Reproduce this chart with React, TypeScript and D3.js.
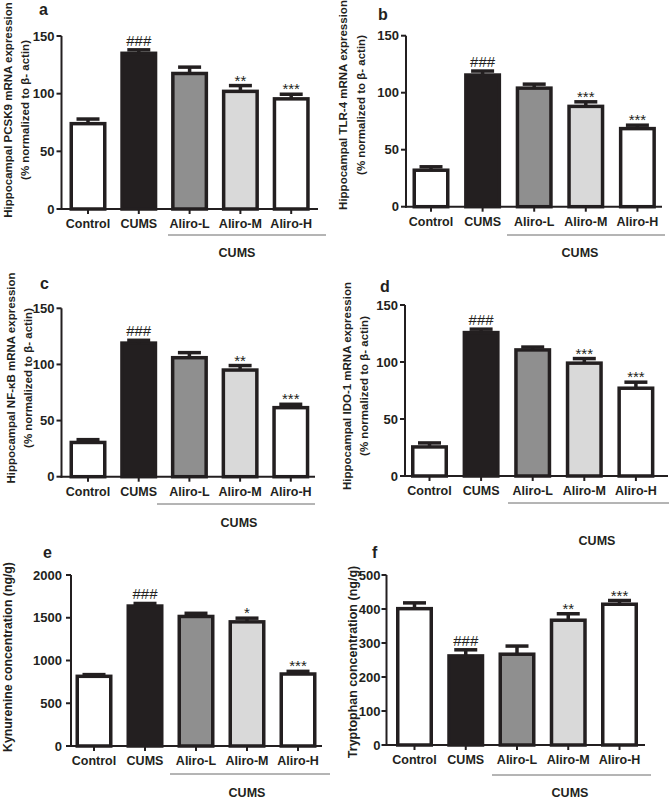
import React from "react";
import * as d3 from "d3";

// ---------- DATA ----------
const categories = ["Control", "CUMS", "Aliro-L", "Aliro-M", "Aliro-H"];
const barFills = ["#ffffff", "#231f20", "#8f8f8f", "#d9d9d9", "#ffffff"];

const pcsk9Means = [74, 135, 117.5, 102, 95.5];
const pcsk9Errors = [4, 3, 5.5, 5, 4];
const pcsk9Marks = ["", "###", "", "**", "***"];

const tlr4Means = [32, 115.5, 104, 88, 68.5];
const tlr4Errors = [3, 3.5, 3.5, 4, 3];
const tlr4Marks = ["", "###", "", "***", "***"];

const nfkbMeans = [30.5, 119, 106, 95, 61.5];
const nfkbErrors = [2.5, 2.5, 4.5, 4, 3];
const nfkbMarks = ["", "###", "", "**", "***"];

const ido1Means = [25.5, 125.8, 110.6, 99, 77];
const ido1Errors = [3.5, 3, 2.5, 4, 5.3];
const ido1Marks = ["", "###", "", "***", "***"];

const kynMeans = [815, 1637, 1515, 1452, 842];
const kynErrors = [20, 30, 37, 43, 31];
const kynMarks = ["", "###", "", "*", "***"];

const trpMeans = [401, 262, 267, 367, 414];
const trpErrors = [17, 18, 24, 19, 11];
const trpMarks = ["", "###", "", "**", "***"];

const mrnaTicks = [0, 50, 100, 150];
const kynTicks = [0, 500, 1000, 1500, 2000];
const trpTicks = [0, 100, 200, 300, 400, 500];

const groupLabel = "CUMS";

// ---------- LAYOUT ----------
const INK = "#231f20";
const FONT = "'Liberation Sans', Arial, Helvetica, sans-serif";

type Layout = {
  letter: string;
  letterX: number;
  letterY: number;
  axisX: number;
  axisEnd: number;
  y0: number;
  yTop: number;
  c0: number;
  step: number;
  labelGap: number;
  titles: { text: string; x: number }[];
  titleY: number;
  titleSize: number;
  groupX1: number;
  groupX2: number;
  groupY: number;
  groupLabelX: number;
  groupLabelY: number;
};

type PanelProps = {
  layout: Layout;
  means: number[];
  errors: number[];
  marks: string[];
  ticks: number[];
};

function Panel({ layout: L, means, errors, marks, ticks }: PanelProps) {
  const barW = 33.5;
  const pad = 1 - barW / L.step;
  const x = d3
    .scaleBand<string>()
    .domain(categories)
    .range([L.c0 - L.step / 2, L.c0 + L.step * 4.5])
    .paddingInner(pad)
    .paddingOuter(pad / 2);
  const yMax = ticks[ticks.length - 1];
  const y = d3.scaleLinear().domain([0, yMax]).range([L.y0, L.yTop]);
  const bw = x.bandwidth();

  return (
    <g>
      <text
        x={L.letterX}
        y={L.letterY}
        fontFamily={FONT}
        fontWeight="bold"
        fontSize={16}
        fill={INK}
      >
        {L.letter}
      </text>
      {L.titles.map((t, i) => (
        <text
          key={i}
          transform={`translate(${t.x},${L.titleY}) rotate(-90)`}
          textAnchor="middle"
          dominantBaseline="central"
          fontFamily={FONT}
          fontWeight="bold"
          fontSize={L.titleSize}
          fill={INK}
        >
          {t.text}
        </text>
      ))}
      {/* bars */}
      {categories.map((c, i) => (
        <rect
          key={c}
          x={x(c)!}
          y={y(means[i])}
          width={bw}
          height={L.y0 - y(means[i])}
          fill={barFills[i]}
          stroke={INK}
          strokeWidth={3.5}
        />
      ))}
      {/* error bars */}
      {categories.map((c, i) => {
        const cx = x(c)! + bw / 2;
        const top = y(means[i] + errors[i]);
        return (
          <g key={c} stroke={INK} strokeWidth={3.5}>
            <line x1={cx} x2={cx} y1={y(means[i])} y2={top} />
            <line x1={cx - 11.5} x2={cx + 11.5} y1={top} y2={top} />
          </g>
        );
      })}
      {/* significance marks */}
      {categories.map((c, i) =>
        marks[i] ? (
          <text
            key={c}
            x={x(c)! + bw / 2}
            y={y(means[i] + errors[i]) + (marks[i].startsWith("#") ? -4 : 0)}
            textAnchor="middle"
            fontFamily={FONT}
            fontSize={15}
            fill={INK}
          >
            {marks[i]}
          </text>
        ) : null
      )}
      {/* axes */}
      <line x1={L.axisX} x2={L.axisX} y1={L.y0 + 1} y2={L.yTop} stroke={INK} strokeWidth={2} />
      <line x1={L.axisX - 1} x2={L.axisEnd} y1={L.y0} y2={L.y0} stroke={INK} strokeWidth={2} />
      {ticks.map((t) => (
        <g key={t}>
          <line x1={L.axisX - 5} x2={L.axisX} y1={y(t)} y2={y(t)} stroke={INK} strokeWidth={2} />
          <text
            x={L.axisX - L.labelGap}
            y={y(t)}
            dy="0.36em"
            textAnchor="end"
            fontFamily={FONT}
            fontWeight="bold"
            fontSize={13}
            fill={INK}
          >
            {t}
          </text>
        </g>
      ))}
      {categories.map((c) => (
        <g key={c}>
          <line
            x1={x(c)! + bw / 2}
            x2={x(c)! + bw / 2}
            y1={L.y0}
            y2={L.y0 + 5}
            stroke={INK}
            strokeWidth={2}
          />
          <text
            x={x(c)! + bw / 2}
            y={L.y0 + 19}
            textAnchor="middle"
            fontFamily={FONT}
            fontWeight="bold"
            fontSize={12.5}
            fill={INK}
          >
            {c}
          </text>
        </g>
      ))}
      {/* group bracket */}
      <line x1={L.groupX1} x2={L.groupX2} y1={L.groupY} y2={L.groupY} stroke="#6a6a6a" strokeWidth={1} />
      <text
        x={L.groupLabelX}
        y={L.groupLabelY}
        textAnchor="middle"
        fontFamily={FONT}
        fontWeight="bold"
        fontSize={12.5}
        fill={INK}
      >
        {groupLabel}
      </text>
    </g>
  );
}

const norm = "(% normalized to \u03b2- actin)";

const layoutA: Layout = {
  letter: "a", letterX: 39, letterY: 15,
  axisX: 61.5, axisEnd: 318, y0: 209, yTop: 36,
  c0: 88, step: 50.8, labelGap: 7,
  titles: [
    { text: "Hippocampal PCSK9 mRNA expression", x: 8 },
    { text: norm, x: 25 },
  ],
  titleY: 110, titleSize: 11.5,
  groupX1: 168, groupX2: 326, groupY: 235, groupLabelX: 237, groupLabelY: 257,
};

const layoutB: Layout = {
  letter: "b", letterX: 378, letterY: 20,
  axisX: 406, axisEnd: 662, y0: 206.7, yTop: 35.7,
  c0: 431, step: 51.6, labelGap: 7,
  titles: [
    { text: "Hippocampal TLR-4 mRNA expression", x: 343 },
    { text: norm, x: 361 },
  ],
  titleY: 105, titleSize: 11.5,
  groupX1: 507, groupX2: 665, groupY: 235, groupLabelX: 580, groupLabelY: 257,
};

const layoutC: Layout = {
  letter: "c", letterX: 40, letterY: 289,
  axisX: 61.5, axisEnd: 315, y0: 476.7, yTop: 308.3,
  c0: 88, step: 50.7, labelGap: 7,
  titles: [
    { text: "Hippocampal NF-\u03baB mRNA expression", x: 11 },
    { text: norm, x: 28 },
  ],
  titleY: 378, titleSize: 11.5,
  groupX1: 157, groupX2: 315, groupY: 504, groupLabelX: 239, groupLabelY: 527,
};

const layoutD: Layout = {
  letter: "d", letterX: 380, letterY: 292,
  axisX: 405, axisEnd: 668, y0: 476, yTop: 305,
  c0: 429.5, step: 51.6, labelGap: 7,
  titles: [
    { text: "Hippocampal IDO-1 mRNA expression", x: 347 },
    { text: norm, x: 364 },
  ],
  titleY: 386, titleSize: 11.5,
  groupX1: 508, groupX2: 669, groupY: 503, groupLabelX: 597, groupLabelY: 545,
};

const layoutE: Layout = {
  letter: "e", letterX: 43, letterY: 558,
  axisX: 71, axisEnd: 322, y0: 746, yTop: 575,
  c0: 94, step: 51, labelGap: 9,
  titles: [{ text: "Kynurenine concentration (ng/g)", x: 8 }],
  titleY: 657, titleSize: 12.3,
  groupX1: 170, groupX2: 330, groupY: 774, groupLabelX: 247, groupLabelY: 797,
};

const layoutF: Layout = {
  letter: "f", letterX: 372, letterY: 558,
  axisX: 386.5, axisEnd: 645, y0: 745, yTop: 575,
  c0: 414.5, step: 51.25, labelGap: 6,
  titles: [{ text: "Tryptophan  concentration (ng/g)", x: 353 }],
  titleY: 662, titleSize: 12.5,
  groupX1: 492, groupX2: 651, groupY: 775, groupLabelX: 570, groupLabelY: 797,
};

export default function App() {
  return (
    <svg
      width={669}
      height={800}
      viewBox="0 0 669 800"
      style={{ position: "absolute", left: 0, top: 0, background: "#ffffff" }}
    >
      <rect x={0} y={0} width={669} height={800} fill="#ffffff" />
      <Panel layout={layoutA} means={pcsk9Means} errors={pcsk9Errors} marks={pcsk9Marks} ticks={mrnaTicks} />
      <Panel layout={layoutB} means={tlr4Means} errors={tlr4Errors} marks={tlr4Marks} ticks={mrnaTicks} />
      <Panel layout={layoutC} means={nfkbMeans} errors={nfkbErrors} marks={nfkbMarks} ticks={mrnaTicks} />
      <Panel layout={layoutD} means={ido1Means} errors={ido1Errors} marks={ido1Marks} ticks={mrnaTicks} />
      <Panel layout={layoutE} means={kynMeans} errors={kynErrors} marks={kynMarks} ticks={kynTicks} />
      <Panel layout={layoutF} means={trpMeans} errors={trpErrors} marks={trpMarks} ticks={trpTicks} />
    </svg>
  );
}
